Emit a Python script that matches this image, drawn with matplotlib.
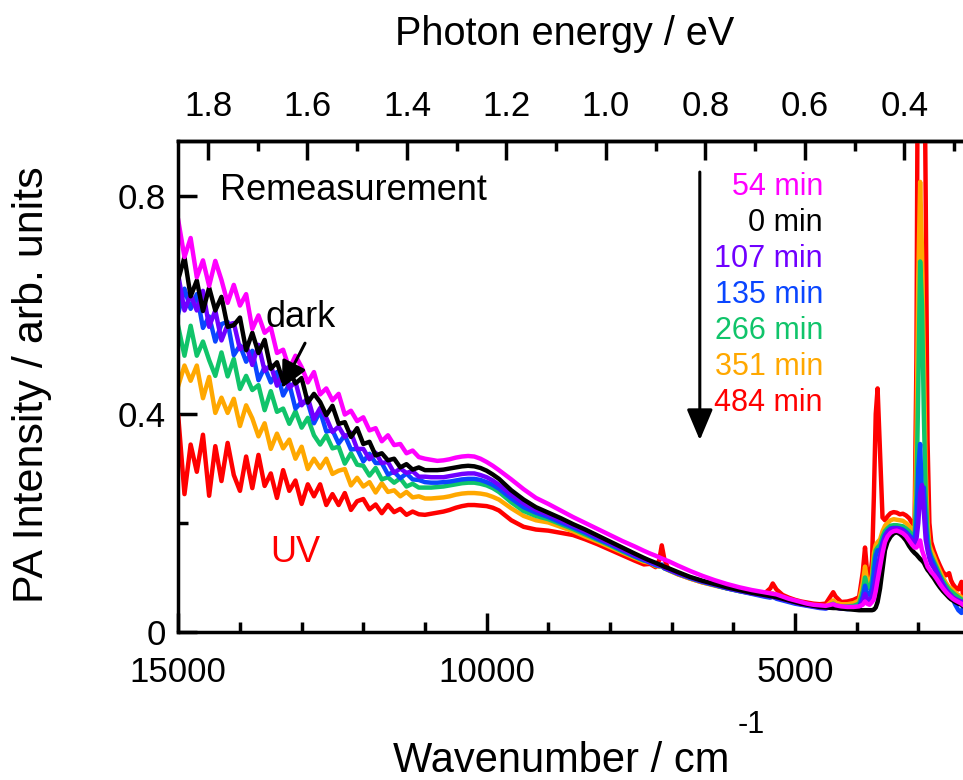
import matplotlib
matplotlib.use("Agg")
import matplotlib.pyplot as plt
from matplotlib.ticker import MultipleLocator, FixedLocator, FuncFormatter

plt.rcParams['font.family'] = ['Liberation Sans', 'DejaVu Sans']

# ---------------- data ----------------
wavenumber = [
    15000, 14900, 14800, 14700, 14600, 14500, 14400, 14300, 14200, 14100,
    14000, 13900, 13800, 13700, 13600, 13500, 13400, 13300, 13200, 13100,
    13000, 12900, 12800, 12700, 12600, 12500, 12400, 12300, 12200, 12100,
    12000, 11900, 11800, 11700, 11600, 11500, 11400, 11300, 11200, 11100, 11000,
    10900, 10800, 10700, 10600, 10500, 10400, 10300, 10200, 10100, 10000,
    9900, 9800, 9600, 9400, 9200, 9000, 8800, 8600, 8400, 8200, 8000,
    7800, 7600, 7450, 7350, 7260, 7200, 7160, 7120, 7050, 6900, 6700,
    6500, 6300, 6100, 5900, 5700, 5500, 5400, 5360, 5300, 5200, 5100, 5000,
    4900, 4800, 4700, 4600, 4500, 4420, 4380, 4340, 4250, 4150, 4050,
    3960, 3900, 3864, 3830, 3790, 3750, 3720, 3690, 3660, 3620, 3580,
    3540, 3500, 3450, 3400, 3350, 3300, 3250, 3200, 3150, 3100, 3060,
    3030, 3000, 2970, 2940, 2910, 2880, 2850, 2820, 2790, 2750, 2700,
    2650, 2600, 2550, 2500, 2470, 2440, 2400, 2350, 2300, 2277]

pa_54min = [
    .755, .688, .723, .651, .682, .635, .681, .646, .604, .637, .599, .620, .556, .581,
    .549, .559, .512, .518, .483, .507, .486, .458, .477, .436, .447, .425, .437, .399,
    .406, .387, .394, .370, .374, .350, .361, .343, .345, .328, .333, .321, .318,
    .316, .314, .315, .317, .320, .322, .323, .322, .318, .312, .305, .297, .280, .262,
    .246, .235, .223, .211, .200, .189, .178, .167, .157, .149, .144, .140, .137, .135,
    .133, .130, .122, .112, .103, .095, .088, .082, .077, .073, .071, .070, .069, .065,
    .061, .058,
    .055, .052, .050, .049, .048, .050, .051, .049, .047, .046, .046, .047, .050, .056,
    .052, .050, .055, .060, .075, .095, .120, .145, .165, .175, .182, .185, .186, .184,
    .181, .176, .168, .160, .155, .155, .160, .168, .150, .140, .130, .120, .115, .110,
    .105, .097, .088, .080, .073, .067, .064, .061, .058, .055, .052, .050]

pa_0min = [
    .647, .688, .616, .645, .589, .632, .590, .615, .560, .563, .577, .517, .549, .512,
    .536, .483, .495, .460, .481, .456, .466, .421, .437, .422, .398, .415, .382, .385,
    .358, .374, .345, .349, .324, .328, .315, .318, .302, .308, .298, .302, .297,
    .297, .297, .298, .300, .302, .304, .305, .304, .301, .296, .289, .281, .260, .243,
    .229, .219, .209, .198, .188, .177, .166, .155, .144, .136, .131, .127, .124, .122,
    .120, .117, .110, .101, .094, .088, .082, .077, .072, .068, .066, .065, .064, .061,
    .058, .055,
    .052, .050, .048, .046, .045, .044, .044, .044, .043, .042, .041, .040, .040, .040,
    .040, .040, .040, .041, .045, .055, .080, .115, .150, .165, .175, .181, .183, .180,
    .175, .168, .158, .150, .145, .142, .138, .134, .131, .127, .120, .114, .110, .105,
    .099, .090, .082, .075, .069, .063, .060, .058, .055, .052, .050, .048]

pa_107min = [
    .655, .590, .619, .590, .626, .560, .590, .535, .564, .567, .519, .527, .490, .527,
    .479, .490, .452, .475, .448, .459, .416, .430, .391, .411, .393, .367, .377, .358,
    .366, .336, .336, .317, .329, .310, .312, .292, .300, .292, .295, .285, .285,
    .284, .284, .284, .286, .288, .290, .291, .291, .288, .284, .278, .270, .252, .236,
    .224, .215, .205, .195, .185, .174, .163, .152, .141, .134, .129, .125, .122, .121,
    .118, .115, .108, .100, .093, .087, .081, .076, .071, .067, .065, .064, .063, .060,
    .057, .054,
    .051, .049, .047, .045, .044, .045, .046, .045, .043, .043, .043, .045, .055, .070,
    .060, .058, .065, .080, .100, .120, .140, .160, .175, .183, .188, .190, .190, .189,
    .186, .181, .175, .168, .163, .170, .200, .255, .270, .220, .170, .150, .135, .125,
    .118, .108, .097, .087, .078, .071, .067, .064, .061, .058, .056, .055]

pa_135min = [
    .585, .630, .593, .620, .558, .579, .533, .565, .569, .508, .526, .496, .516, .462,
    .486, .458, .477, .434, .455, .410, .422, .421, .383, .405, .368, .370, .346, .361,
    .335, .336, .313, .327, .310, .310, .289, .294, .282, .291, .280, .279, .275,
    .274, .274, .275, .276, .278, .280, .281, .281, .279, .275, .270, .263, .245, .229,
    .219, .211, .201, .192, .182, .171, .161, .150, .139, .132, .127, .123, .121, .124,
    .117, .114, .107, .099, .092, .086, .080, .075, .070, .065, .063, .065, .061, .058,
    .055, .052,
    .050, .048, .046, .044, .043, .046, .048, .045, .043, .042, .043, .046, .065, .085,
    .070, .068, .080, .110, .140, .150, .150, .165, .178, .185, .190, .191, .191, .190,
    .188, .184, .178, .172, .168, .200, .300, .345, .240, .265, .200, .160, .145, .135,
    .125, .112, .100, .088, .078, .070, .068, .060, .050, .040, .035, .045]

pa_266min = [
    .560, .507, .562, .507, .533, .499, .470, .513, .469, .501, .446, .470, .444, .453,
    .407, .442, .404, .410, .382, .405, .375, .393, .361, .344, .361, .337, .340, .309,
    .328, .307, .305, .287, .301, .280, .284, .274, .282, .267, .272, .265, .265,
    .265, .266, .267, .269, .271, .273, .274, .274, .272, .269, .264, .257, .238, .222,
    .213, .207, .198, .189, .179, .169, .159, .148, .138, .131, .130, .122, .121, .120,
    .117, .114, .107, .099, .092, .086, .080, .075, .071, .067, .066, .067, .064, .060,
    .057, .054,
    .051, .049, .047, .046, .045, .050, .052, .049, .047, .047, .048, .052, .075, .100,
    .085, .080, .095, .130, .150, .155, .160, .175, .185, .190, .195, .196, .196, .195,
    .194, .190, .185, .178, .175, .250, .450, .680, .600, .400, .250, .180, .150, .140,
    .130, .118, .105, .094, .085, .078, .075, .072, .068, .064, .060, .058]

pa_351min = [
    .452, .489, .461, .489, .429, .468, .402, .430, .402, .428, .378, .416, .392, .359,
    .383, .336, .364, .337, .353, .318, .340, .299, .318, .301, .318, .290, .296, .299,
    .269, .283, .267, .275, .256, .273, .257, .260, .249, .257, .247, .249, .245,
    .245, .246, .247, .249, .252, .254, .255, .255, .254, .252, .248, .243, .227, .213,
    .205, .201, .193, .185, .175, .166, .156, .146, .136, .129, .127, .121, .120, .122,
    .117, .113, .106, .098, .091, .085, .080, .075, .071, .068, .069, .071, .066, .062,
    .059, .056,
    .053, .051, .049, .048, .047, .055, .058, .054, .051, .051, .053, .058, .090, .120,
    .095, .088, .105, .145, .160, .165, .170, .185, .195, .200, .205, .207, .206, .205,
    .204, .200, .195, .188, .185, .350, .650, .826, .700, .500, .300, .200, .160, .150,
    .140, .125, .112, .100, .090, .082, .080, .077, .072, .068, .064, .062]

pa_484min = [
    .395, .253, .344, .294, .362, .250, .341, .277, .347, .288, .259, .322, .264, .325,
    .268, .291, .246, .297, .259, .278, .235, .271, .249, .271, .233, .253, .233, .255,
    .224, .240, .244, .225, .234, .218, .233, .220, .226, .215, .221, .216, .215,
    .217, .219, .221, .224, .228, .231, .233, .233, .232, .231, .228, .223, .205, .193,
    .188, .186, .182, .178, .170, .161, .151, .141, .131, .124, .125, .119, .132, .159,
    .135, .114, .106, .098, .091, .086, .080, .076, .072, .070, .080, .089, .078, .068,
    .063, .059,
    .056, .054, .052, .051, .052, .066, .073, .065, .055, .056, .059, .064, .110, .155,
    .110, .095, .130, .250, .400, .447, .330, .210, .205, .212, .218, .220, .219, .216,
    .217, .214, .209, .200, .192, .500, 1.30, 1.40, 1.40, 1.20, 0.80, 0.35, 0.20, .165,
    .150, .135, .122, .110, .104, .108, .095, .088, .082, .078, .092, .070]

series_labels = ["54 min", "0 min", "107 min", "135 min", "266 min", "351 min", "484 min"]
series_values = [pa_54min, pa_0min, pa_107min, pa_135min, pa_266min, pa_351min, pa_484min]
series_colors = ["#FF00FF", "#000000", "#7000FF", "#0A46FF", "#10C46A", "#FFA800", "#FF0000"]

energy_ticks = [1.8, 1.6, 1.4, 1.2, 1.0, 0.8, 0.6, 0.4]
energy_minor = [1.7, 1.5, 1.3, 1.1, 0.9, 0.7, 0.5, 0.3]

for v in series_values:
    assert len(v) == len(wavenumber), len(v)

# ---------------- figure ----------------
W, H = 963, 780
fig = plt.figure(figsize=(W / 100, H / 100), dpi=100)
px_left, px_right, px_bottom, px_top = 178.3, 963, 632, 141
ax = fig.add_axes([px_left / W, (H - px_bottom) / H,
                   (px_right - px_left) / W, (px_bottom - px_top) / H])

# draw so that the latest measurement lies underneath
for vals, col in list(zip(series_values, series_colors))[::-1]:
    ax.plot(wavenumber, vals, color=col, lw=3.2)

ax.set_xlim(15000, 2275)
ax.set_ylim(0, 0.901)

for s in ['left', 'bottom', 'top']:
    ax.spines[s].set_linewidth(2.5)
ax.spines['right'].set_visible(False)

ax.xaxis.set_major_locator(MultipleLocator(5000))
ax.xaxis.set_minor_locator(MultipleLocator(1000))
ax.yaxis.set_major_locator(MultipleLocator(0.4))
ax.yaxis.set_minor_locator(MultipleLocator(0.2))
ax.yaxis.set_major_formatter(FuncFormatter(lambda v, p: '0' if abs(v) < 1e-9 else f'{v:.1f}'))
ax.xaxis.set_major_formatter(FuncFormatter(lambda v, p: f'{v:.0f}'))

ax.tick_params(which='major', direction='in', length=14, width=2.5, labelsize=25,
               top=False, right=False)
ax.tick_params(which='minor', direction='in', length=7, width=2.5, top=False, right=False)
ax.tick_params(axis='x', which='major', pad=17)
ax.tick_params(axis='y', which='major', pad=9)

EV = 8065.54
secax = ax.secondary_xaxis('top', functions=(lambda w: w / EV, lambda e: e * EV))
secax.xaxis.set_major_locator(FixedLocator(energy_ticks))
secax.xaxis.set_minor_locator(FixedLocator(energy_minor))
secax.xaxis.set_major_formatter(FuncFormatter(lambda v, p: f'{v:.1f}'))
secax.tick_params(which='major', direction='in', length=14, width=2.5, labelsize=25, pad=13)
secax.tick_params(which='minor', direction='in', length=7, width=2.5)
secax.spines['top'].set_linewidth(2.5)

# axis titles
fig.text(32 / W, 1 - 385 / H, 'PA Intensity / arb. units', rotation=90,
         ha='center', va='center', fontsize=31)
xl = fig.text(393 / W, 1 - 772 / H, 'Wavenumber / cm', ha='left', va='baseline', fontsize=30)
fig.text(738 / W, 1 - 733 / H, '-1', ha='left', va='baseline', fontsize=22)
fig.text(395 / W, 1 - 45 / H, 'Photon energy / eV', ha='left', va='baseline', fontsize=28.5)

# annotations
ax.text(14324, 0.793, 'Remeasurement', ha='left', va='baseline', fontsize=26)
ax.text(13594, 0.560, 'dark', ha='left', va='baseline', fontsize=26)
ax.text(13513, 0.128, 'UV', ha='left', va='baseline', fontsize=26, color='#FF0000')
ax.annotate('', xy=(13318, 0.448), xytext=(12945, 0.530),
            arrowprops=dict(arrowstyle='-|>,head_length=0.8,head_width=0.4',
                            lw=2.2, color='k', shrinkA=0, shrinkB=0, mutation_scale=20))
ax.annotate('', xy=(6543, 0.352), xytext=(6543, 0.844),
            arrowprops=dict(arrowstyle='-|>,head_length=0.95,head_width=0.4',
                            lw=2.2, color='k', shrinkA=0, shrinkB=0, mutation_scale=20))

legend_top = 0.802
legend_step = 0.066
for i, (lab, col) in enumerate(zip(series_labels, series_colors)):
    ax.text(4547, legend_top - i * legend_step, lab, ha='right', va='baseline',
            fontsize=22, color=col)

fig.savefig('out.png', dpi=100)
